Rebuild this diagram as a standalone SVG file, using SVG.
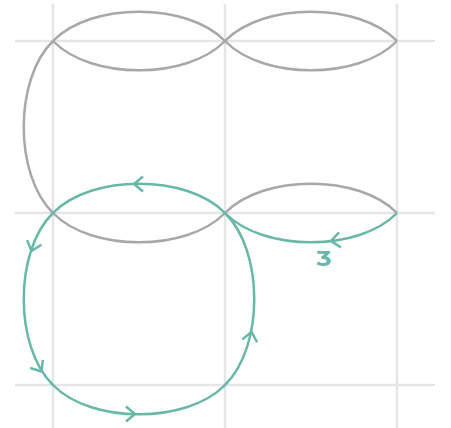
<svg xmlns="http://www.w3.org/2000/svg" width="451" height="428" viewBox="0 0 451 428">
  <style>
    .grid { stroke: #e6e6e9; stroke-width: 2.5; fill: none; }
    .gray { stroke: #a8a8ac; stroke-width: 2.5; fill: none; }
    .teal { stroke: #68b7a7; stroke-width: 2.5; fill: none; }
    .lbl { font-family: "Montserrat", "Lato", "Noto Sans", sans-serif; font-weight: 700; font-size: 22px; fill: #68b7a7; }
  </style>
  <defs>
    <path id="chev" d="M-9,-7.5 L0,0 L-9,7.5" class="teal" stroke-linejoin="miter"/>
  </defs>
  <rect width="451" height="428" fill="#ffffff"/>
  <g id="grid">
    <line class="grid" x1="53" y1="4" x2="53" y2="428"/>
    <line class="grid" x1="225" y1="4" x2="225" y2="428"/>
    <line class="grid" x1="397" y1="4" x2="397" y2="428"/>
    <line class="grid" x1="15" y1="41" x2="435" y2="41"/>
    <line class="grid" x1="15" y1="213" x2="435" y2="213"/>
    <line class="grid" x1="15" y1="385" x2="435" y2="385"/>
  </g>
  <g id="gray-edges">
    <path class="gray" d="M53,41 C91,2 187,2 225,41"/>
    <path class="gray" d="M53,41 C91,80 187,80 225,41"/>
    <path class="gray" d="M225,41 C263,2 359,2 397,41"/>
    <path class="gray" d="M225,41 C263,80 359,80 397,41"/>
    <path class="gray" d="M53,41 C14,79 14,175 53,213"/>
    <path class="gray" d="M53,213 C91,252 187,252 225,213"/>
    <path class="gray" d="M225,213 C263,174 359,174 397,213"/>
  </g>
  <g id="teal-walk">
    <path class="teal" d="M397,213 C359,252 263,252 225,213 C187,174 91,174 53,213 C14,251 14,347 53,385 C91,424 187,424 225,385 C264,347 264,251 225,213"/>
  </g>
  <g id="arrows">
    <use href="#chev" transform="translate(134,184) rotate(180)"/>
    <use href="#chev" transform="translate(331,241) rotate(173)"/>
    <use href="#chev" transform="translate(31.5,251) rotate(108)"/>
    <use href="#chev" transform="translate(41.5,371.5) rotate(57)"/>
    <use href="#chev" transform="translate(135,414) rotate(0)"/>
    <use href="#chev" transform="translate(251.5,332) rotate(-79)"/>
  </g>
  <g id="label">
    <text class="lbl" text-anchor="middle" transform="translate(324,266) scale(1.15,1)">3</text>
  </g>
</svg>
